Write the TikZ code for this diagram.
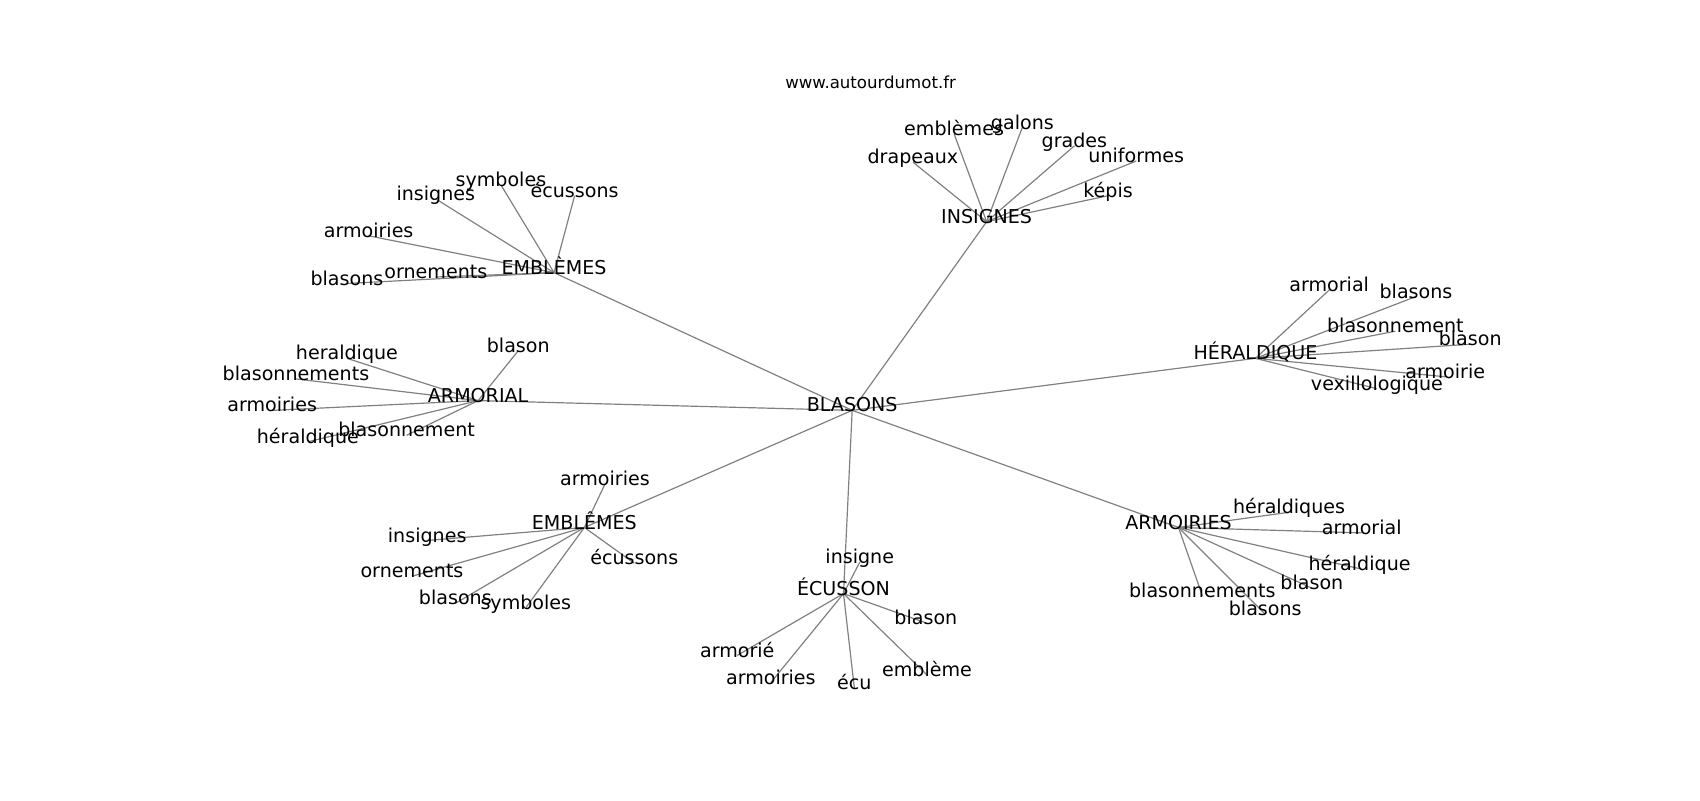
\documentclass[tikz,border=0pt]{standalone}
\usepackage{fontspec}
\setmainfont{DejaVu Sans}
\pgfdeclarelayer{bg}
\pgfsetlayers{bg,main}
\begin{document}
\begin{tikzpicture}[x=1pt,y=-1pt,
  lbl/.style={inner sep=0pt,outer sep=0pt,anchor=base,font=\fontsize{17.6}{19}\selectfont,text=black},
  ttl/.style={inner sep=0pt,anchor=base,font=\fontsize{15.3}{16}\selectfont,text=black},
  edge/.style={draw={rgb,255:red,128;green,128;blue,128},line width=1.1pt}]
\useasboundingbox (0,0) rectangle (1568,738);
% nodes (placed with baseline)
\node[ttl] (url) at (803,82) {www.autourdumot.fr};
\node[lbl] (b0) at (786,380) {BLASONS};
\node[lbl] (e1) at (511,253) {EMBLÈMES};
\node[lbl] (i1) at (910,206) {INSIGNES};
\node[lbl] (h1) at (1158,332) {HÉRALDIQUE};
\node[lbl] (a1) at (441,371) {ARMORIAL};
\node[lbl] (e2) at (539,488) {EMBLÊMES};
\node[lbl] (c1) at (778,549) {ÉCUSSON};
\node[lbl] (r1) at (1087,488) {ARMOIRIES};
% EMBLÈMES leaves
\node[lbl] (e1a) at (462,172) {symboles};
\node[lbl] (e1b) at (530,182) {écussons};
\node[lbl] (e1c) at (402,185) {insignes};
\node[lbl] (e1d) at (340,219) {armoiries};
\node[lbl] (e1e) at (402,257) {ornements};
\node[lbl] (e1f) at (320,263) {blasons};
% INSIGNES leaves
\node[lbl] (i1a) at (880,125) {emblèmes};
\node[lbl] (i1b) at (943,119) {galons};
\node[lbl] (i1c) at (991,136) {grades};
\node[lbl] (i1d) at (842,151) {drapeaux};
\node[lbl] (i1e) at (1048,150) {uniformes};
\node[lbl] (i1f) at (1022,182) {képis};
% HÉRALDIQUE leaves
\node[lbl] (h1a) at (1226,269) {armorial};
\node[lbl] (h1b) at (1306,275) {blasons};
\node[lbl] (h1c) at (1287,307) {blasonnement};
\node[lbl] (h1d) at (1356,319) {blason};
\node[lbl] (h1e) at (1333,349) {armoirie};
\node[lbl] (h1f) at (1270,360) {vexillologique};
% ARMORIAL leaves
\node[lbl] (a1a) at (478,325) {blason};
\node[lbl] (a1b) at (320,332) {heraldique};
\node[lbl] (a1c) at (273,351) {blasonnements};
\node[lbl] (a1d) at (251,380) {armoiries};
\node[lbl] (a1e) at (375,403) {blasonnement};
\node[lbl] (a1f) at (284,409) {héraldique};
% EMBLÊMES leaves
\node[lbl] (e2a) at (558,448) {armoiries};
\node[lbl] (e2b) at (394,500) {insignes};
\node[lbl] (e2c) at (380,533) {ornements};
\node[lbl] (e2d) at (585,521) {écussons};
\node[lbl] (e2e) at (420,558) {blasons};
\node[lbl] (e2f) at (485,562) {symboles};
% ÉCUSSON leaves
\node[lbl] (c1a) at (793,520) {insigne};
\node[lbl] (c1b) at (854,576) {blason};
\node[lbl] (c1c) at (680,606) {armorié};
\node[lbl] (c1d) at (711,631) {armoiries};
\node[lbl] (c1e) at (788,636) {écu};
\node[lbl] (c1f) at (855,624) {emblème};
% ARMOIRIES leaves
\node[lbl] (r1a) at (1189,474) {héraldiques};
\node[lbl] (r1b) at (1256,493) {armorial};
\node[lbl] (r1c) at (1254,526) {héraldique};
\node[lbl] (r1d) at (1210,544) {blason};
\node[lbl] (r1e) at (1109,551) {blasonnements};
\node[lbl] (r1f) at (1167,568) {blasons};
% edges (drawn behind the labels)
\begin{pgfonlayer}{bg}
\foreach \a/\b in {b0/e1,b0/i1,b0/h1,b0/a1,b0/e2,b0/c1,b0/r1,
  e1/e1a,e1/e1b,e1/e1c,e1/e1d,e1/e1e,e1/e1f,
  i1/i1a,i1/i1b,i1/i1c,i1/i1d,i1/i1e,i1/i1f,
  h1/h1a,h1/h1b,h1/h1c,h1/h1d,h1/h1e,h1/h1f,
  a1/a1a,a1/a1b,a1/a1c,a1/a1d,a1/a1e,a1/a1f,
  e2/e2a,e2/e2b,e2/e2c,e2/e2d,e2/e2e,e2/e2f,
  c1/c1a,c1/c1b,c1/c1c,c1/c1d,c1/c1e,c1/c1f,
  r1/r1a,r1/r1b,r1/r1c,r1/r1d,r1/r1e,r1/r1f}
  \draw[edge] ([yshift=1.5pt]\a.base) -- ([yshift=1.5pt]\b.base);
\end{pgfonlayer}
\end{tikzpicture}
\end{document}
